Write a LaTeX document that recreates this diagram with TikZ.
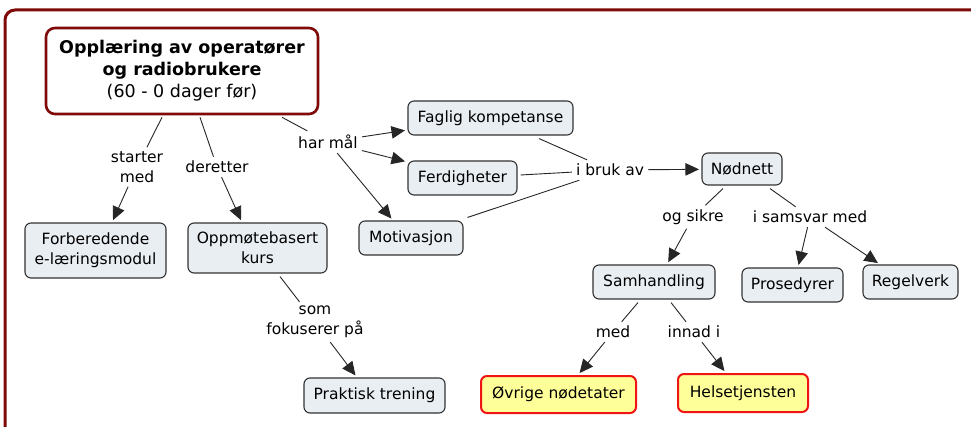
\documentclass[tikz,border=0pt]{standalone}
\usepackage{fontspec}
\setmainfont{DejaVu Sans}
\usetikzlibrary{arrows.meta}
\definecolor{frame}{RGB}{128,10,10}
\definecolor{boxfill}{RGB}{233,238,243}
\definecolor{boxline}{RGB}{50,50,50}
\definecolor{hlfill}{RGB}{255,255,153}
\definecolor{hlline}{RGB}{240,20,20}
\tikzset{
  concept/.style={draw=boxline, fill=boxfill, line width=1.1pt, rounded corners=6pt,
    align=center, inner xsep=4pt, inner ysep=3pt, font=\fontsize{15.5}{20}\selectfont},
  hl/.style={concept, draw=hlline, fill=hlfill, line width=2pt},
  rootbox/.style={draw=frame, fill=white, line width=2.6pt, rounded corners=9pt,
    align=center, inner xsep=4pt, inner ysep=3pt, font=\fontsize{17.5}{22}\selectfont},
  lbl/.style={align=center, inner sep=4pt, font=\fontsize{15.5}{20}\selectfont},
  ln/.style={line width=0.9pt, draw=black!85},
  arr/.style={ln, -{Triangle[length=13.5pt,width=12.5pt]}, shorten >=2.5pt}
}
\begin{document}
\begin{tikzpicture}[x=1pt,y=-1pt]
\useasboundingbox (0,0) rectangle (971,427);
\fill[white] (0,0) rectangle (971,427);
\draw[frame, line width=3pt, rounded corners=10pt] (5,440) -- (5,10) -- (990,10);

\node[rootbox, minimum width=272pt, minimum height=86pt] (root) at (182,71)
  {\textbf{Opplæring av operatører}\\\textbf{og radiobrukere}\\(60 - 0 dager før)};

\node[concept, minimum width=141pt, minimum height=55pt] (forb) at (95.5,250.5) {Forberedende\\e-læringsmodul};
\node[concept, minimum width=139pt, minimum height=50pt] (oppm) at (257.5,248) {Oppmøtebasert\\kurs};
\node[concept, minimum width=104pt, minimum height=34pt] (motiv) at (411,238) {Motivasjon};
\node[concept, minimum width=165pt, minimum height=34pt] (fagl) at (490.5,118) {Faglig kompetanse};
\node[concept, minimum width=109pt, minimum height=34pt] (ferd) at (462.5,178) {Ferdigheter};
\node[concept, minimum width=80pt, minimum height=32pt] (nodn) at (742,169) {Nødnett};
\node[concept, minimum width=122pt, minimum height=34pt] (samh) at (654,282) {Samhandling};
\node[concept, minimum width=101pt, minimum height=34pt] (pros) at (792.5,285) {Prosedyrer};
\node[concept, minimum width=95pt, minimum height=34pt] (regel) at (910.5,282) {Regelverk};
\node[concept, minimum width=141pt, minimum height=35pt] (prakt) at (374.5,395.5) {Praktisk trening};
\node[hl, minimum width=155pt, minimum height=37pt] (ovrig) at (558.5,394.5) {Øvrige nødetater};
\node[hl, minimum width=130pt, minimum height=38pt] (helse) at (743,393) {Helsetjensten};

\node[lbl] (lstart) at (137,167) {starter\\med};
\node[lbl] (lderet) at (217,167) {deretter};
\node[lbl] (lhar) at (328,142) {har mål};
\node[lbl] (lbruk) at (610,170) {i bruk av};
\node[lbl] (lsikre) at (693,217) {og sikre};
\node[lbl] (lsams) at (810,217) {i samsvar med};
\node[lbl] (lsom) at (315,322) {som\\fokuserer på};
\node[lbl] (lmed) at (613,332) {med};
\node[lbl] (linn) at (694,332) {innad i};

\draw[ln] (root.south -| 162,0) ++(0,2) -- (lstart);
\draw[arr] (lstart) -- (forb.north -| 112,0);
\draw[ln] (root.south -| 200,0) ++(0,2) -- (lderet);
\draw[arr] (lderet) -- (oppm.north -| 242,0);
\draw[ln] (root.south -| 282,0) ++(0,2) -- (lhar);
\draw[arr] (lhar) -- (fagl.west |- 0,130);
\draw[arr] (lhar) -- (ferd.west |- 0,162);
\draw[arr] (lhar) -- (motiv.north -| 393,0);
\draw[ln] (fagl.south -| 539,0) ++(0,3) -- (lbruk);
\draw[ln] (ferd.east |- 0,175) ++(3,0) -- (lbruk);
\draw[ln] (motiv.north east) ++(4,-3) -- (lbruk);
\draw[arr] (lbruk) -- (nodn);
\draw[ln] (nodn.south -| 723,0) ++(0,3) -- (lsikre);
\draw[arr] (lsikre) -- (samh.north -| 667,0);
\draw[ln] (nodn.south -| 770,0) ++(0,3) -- (lsams);
\draw[arr] (lsams) -- (pros.north -| 798,0);
\draw[arr] (lsams) -- (regel.north -| 880,0);
\draw[ln] (oppm.south -| 280,0) ++(0,3) -- (lsom);
\draw[arr] (lsom) -- (prakt.north -| 357,0);
\draw[ln] (samh.south -| 638,0) ++(0,3) -- (lmed);
\draw[arr] (lmed) -- (ovrig.north -| 578,0);
\draw[ln] (samh.south -| 671,0) ++(0,3) -- (linn);
\draw[arr] (linn) -- (helse.north -| 726,0);
\end{tikzpicture}
\end{document}
